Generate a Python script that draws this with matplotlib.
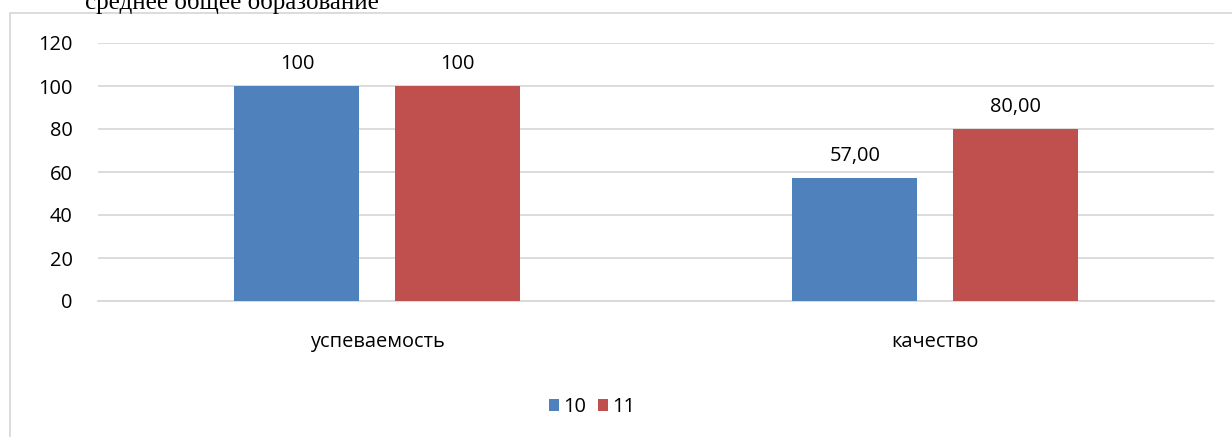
import matplotlib.pyplot as plt
from matplotlib.patches import Rectangle, Patch
import numpy as np

# data
categories = ["успеваемость", "качество"]
series_names = ["10", "11"]
values_10 = [100, 57]
values_11 = [100, 80]
labels_10 = ["100", "57,00"]
labels_11 = ["100", "80,00"]
y_ticks = [0, 20, 40, 60, 80, 100, 120]

colors = ["#4f81bd", "#c0504d"]
grid_color = "#d9d9d9"

W, H = 1232, 437
DPI = 100
fig = plt.figure(figsize=(W / DPI, H / DPI), dpi=DPI)
plt.rcParams["font.family"] = ["Open Sans", "DejaVu Sans"]

# plot area in pixels: left 98, right 1214, top 43, bottom 301
ax = fig.add_axes([98 / W, (H - 301) / H, 1116 / W, 258 / H])

x = np.arange(len(categories))
bar_w = 0.224
offset = 0.1434

fs = 14.4
for vals, labs, name, col, sign in [
    (values_10, labels_10, series_names[0], colors[0], -1),
    (values_11, labels_11, series_names[1], colors[1], 1),
]:
    bars = ax.bar(x + sign * offset, vals, bar_w, color=col, label=name, zorder=3)
    for b, lab in zip(bars, labs):
        ax.annotate(lab, (b.get_x() + b.get_width() / 2, b.get_height()),
                    xytext=(0, 12.5), textcoords="offset points",
                    ha="center", va="baseline", fontsize=fs, color="#000000")

ax.set_xlim(-0.5, len(categories) - 0.5)
ax.set_ylim(0, 120)
ax.set_yticks(y_ticks)
ax.set_xticks(x)
ax.set_xticklabels(categories)
ax.tick_params(axis="y", length=0, pad=18, labelsize=fs)
ax.tick_params(axis="x", length=0, pad=22.5, labelsize=fs)
ax.yaxis.grid(True, color=grid_color, linewidth=1.3, zorder=0)
for s in ["top", "right", "left"]:
    ax.spines[s].set_visible(False)
ax.spines["bottom"].set_color(grid_color)
ax.spines["bottom"].set_linewidth(1.3)

# legend below
handles = [Patch(facecolor=c, edgecolor="none") for c in colors]
fig.legend(handles, series_names, loc="center", bbox_to_anchor=(592 / W, 1 - 407 / H),
           ncol=2, frameon=False, fontsize=fs, handlelength=0.5, handleheight=0.6,
           handletextpad=0.25, columnspacing=0.55)

# chart area border (runs off the right and bottom edges)
fig.add_artist(Rectangle((9.5 / W, -0.1), 2, (H - 13) / H + 0.1, transform=fig.transFigure,
                         fill=False, edgecolor=grid_color, linewidth=1.3))

# heading text cut off at the top, as in the source
fig.text(85 / W, 1 - 9.5 / H, "среднее общее образование", fontsize=18.0,
         family=["Liberation Serif", "DejaVu Serif"], ha="left", va="baseline")

fig.savefig("out.png", dpi=DPI)
